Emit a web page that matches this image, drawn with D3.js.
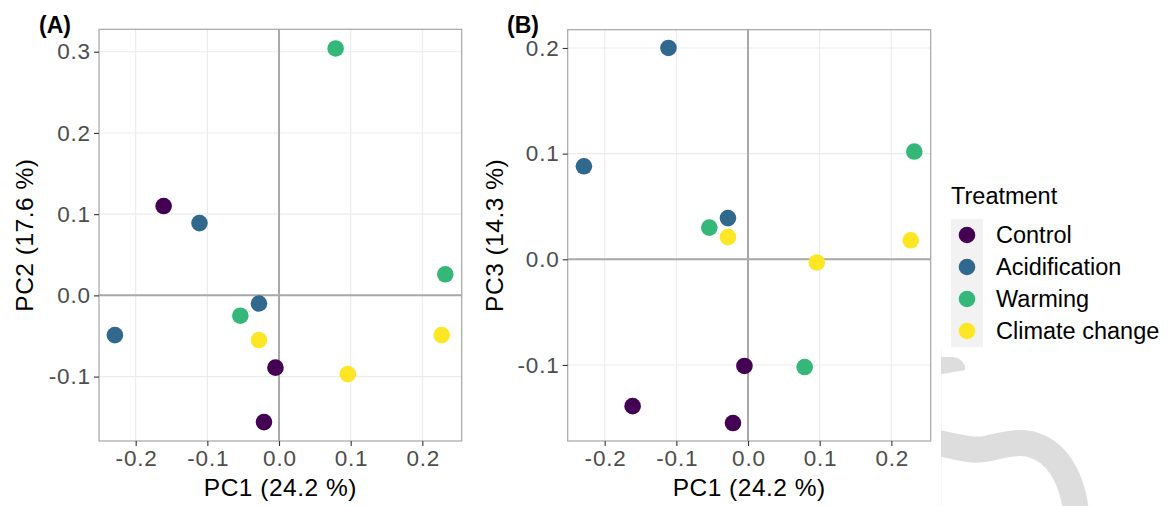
<!DOCTYPE html>
<html>
<head>
<meta charset="utf-8">
<script src="https://cdn.jsdelivr.net/npm/d3@7"></script>
<style>
  html, body { margin: 0; padding: 0; background: #fff; }
  svg { display: block; font-family: "Liberation Sans", Arial, sans-serif; }
</style>
</head>
<body>
<svg id="chart" width="1172" height="506"></svg>
<script>
// ---- Data ----
const treatments = ["Control", "Acidification", "Warming", "Climate change"];
const colors = ["#440154", "#31688E", "#35B779", "#FDE725"];
const sampleTreatment = ["Control","Control","Control",
                         "Acidification","Acidification","Acidification",
                         "Warming","Warming","Warming",
                         "Climate change","Climate change","Climate change"];
const pc1 = [-0.161, -0.005, -0.021,  -0.111, -0.028, -0.229,  0.079, 0.232, -0.054,  0.227, -0.028, 0.096];
const pc2 = [ 0.110, -0.089, -0.156,   0.089, -0.010, -0.049,  0.304, 0.026, -0.025, -0.049, -0.055, -0.097];
const pc3 = [-0.139, -0.101, -0.155,   0.200,  0.039,  0.088, -0.102, 0.102,  0.030,  0.018,  0.021, -0.003];
const xTicks = [-0.2, -0.1, 0.0, 0.1, 0.2];
const yTicksA = [-0.1, 0.0, 0.1, 0.2, 0.3];
const yTicksB = [-0.1, 0.0, 0.1, 0.2];

const svg = d3.select("#chart");
const color = d3.scaleOrdinal().domain(treatments).range(colors);
const fmt = d3.format(".1f");
const fmtTick = v => fmt(v).replace("−", "-");

function panel(opts) {
  const { left, right, top, bottom, xDom, yDom, ys, yTicks, tag, tagX, ylab, titleX } = opts;
  const x = d3.scaleLinear().domain(xDom).range([left, right]);
  const y = d3.scaleLinear().domain(yDom).range([bottom, top]);
  const g = svg.append("g");

  // grid
  g.append("g").selectAll("line.gx").data(xTicks).join("line")
    .attr("x1", d => x(d)).attr("x2", d => x(d)).attr("y1", top).attr("y2", bottom)
    .attr("stroke", "#EBEBEB").attr("stroke-width", 1.1);
  g.append("g").selectAll("line.gy").data(yTicks).join("line")
    .attr("x1", left).attr("x2", right).attr("y1", d => y(d)).attr("y2", d => y(d))
    .attr("stroke", "#EBEBEB").attr("stroke-width", 1.1);

  // zero lines
  g.append("line").attr("x1", x(0)).attr("x2", x(0)).attr("y1", top).attr("y2", bottom)
    .attr("stroke", "#A8A8A8").attr("stroke-width", 2);
  g.append("line").attr("x1", left).attr("x2", right).attr("y1", y(0)).attr("y2", y(0))
    .attr("stroke", "#A8A8A8").attr("stroke-width", 2);

  // points
  g.append("g").selectAll("circle").data(pc1.map((v, i) => ({ x: v, y: ys[i], t: sampleTreatment[i] })))
    .join("circle")
    .attr("cx", d => x(d.x)).attr("cy", d => y(d.y)).attr("r", 8.3)
    .attr("fill", d => color(d.t));

  // border
  g.append("rect").attr("x", left).attr("y", top).attr("width", right - left).attr("height", bottom - top)
    .attr("fill", "none").attr("stroke", "#A6A6A6").attr("stroke-width", 1.2);

  // axes
  const xa = g.append("g").attr("transform", `translate(0,${bottom})`)
    .call(d3.axisBottom(x).tickValues(xTicks).tickSize(5).tickPadding(4).tickFormat(fmtTick));
  const ya = g.append("g").attr("transform", `translate(${left},0)`)
    .call(d3.axisLeft(y).tickValues(yTicks).tickSize(5).tickPadding(4).tickFormat(fmtTick));
  [xa, ya].forEach(a => {
    a.select(".domain").remove();
    a.selectAll(".tick line").attr("stroke", "#333333").attr("stroke-width", 1.1);
    a.selectAll(".tick text").attr("fill", "#4D4D4D").style("font-size", "22.5px")
      .style("letter-spacing", "0.8px")
      .style("font-family", '"Liberation Sans", Arial, sans-serif');
  });
  xa.selectAll(".tick text").attr("dy", "0.71em").attr("dx", "0.4px");
  ya.selectAll(".tick text").attr("dx", "0.8px");

  // titles
  svg.append("text").attr("x", (left + right) / 2).attr("y", 496)
    .attr("text-anchor", "middle").style("font-size", "24.5px").style("letter-spacing", "0.5px")
    .attr("fill", "#000").text("PC1 (24.2 %)");
  svg.append("text").attr("transform", `translate(${titleX},${(top + bottom) / 2}) rotate(-90)`)
    .attr("text-anchor", "middle").style("font-size", "24.5px").style("letter-spacing", "0.5px")
    .attr("fill", "#000").text(ylab);
  svg.append("text").attr("x", tagX).attr("y", 33).style("font-size", "23px")
    .style("font-weight", "bold").attr("fill", "#000").text(tag);
}

panel({ left: 99, right: 461.7, top: 29.3, bottom: 441, xDom: [-0.2512, 0.2549], yDom: [-0.1793, 0.3276],
        ys: pc2, yTicks: yTicksA, tag: "(A)", tagX: 39, ylab: "PC2 (17.6 %)", titleX: 33 });
panel({ left: 567.7, right: 930.7, top: 29.7, bottom: 441, xDom: [-0.2516, 0.2549], yDom: [-0.172, 0.2173],
        ys: pc3, yTicks: yTicksB, tag: "(B)", tagX: 507, ylab: "PC3 (14.3 %)", titleX: 502.5 });

// ---- decorative grey shapes (bottom right) ----
const deco = svg.append("g");
deco.append("clipPath").attr("id", "decoClip").append("rect")
  .attr("x", 941).attr("y", 340).attr("width", 231).attr("height", 166);
deco.append("line").attr("x1", 941.5).attr("x2", 941.5).attr("y1", 350).attr("y2", 506)
  .attr("stroke", "#F6F6F6").attr("stroke-width", 1);
const dg = deco.append("g").attr("clip-path", "url(#decoClip)");
dg.append("path")
  .attr("d", "M 930,442 C 952,444 966,452 985,449 C 1000,446 1015,441 1030,444 C 1055,450 1072,475 1076,512")
  .attr("fill", "none").attr("stroke", "#DDDDDD").attr("stroke-width", 26);
dg.append("path")
  .attr("d", "M 935,357 L 953,357 Q 962,358 965,366 L 965,370 Q 955,372 935,375 Z")
  .attr("fill", "#DDDDDD");

// ---- legend ----
const lg = svg.append("g");
lg.append("text").attr("x", 951).attr("y", 204).style("font-size", "23.5px").attr("fill", "#000").text("Treatment");
lg.append("rect").attr("x", 951).attr("y", 219).attr("width", 32).attr("height", 128).attr("fill", "#F2F2F2");
const ky = d3.scalePoint().domain(treatments).range([235, 331]);
lg.selectAll("circle").data(treatments).join("circle")
  .attr("cx", 967).attr("cy", d => ky(d)).attr("r", 8.3).attr("fill", d => color(d));
lg.selectAll("text.lab").data(treatments).join("text").attr("class", "lab")
  .attr("x", 996).attr("y", d => ky(d)).attr("dy", "0.36em")
  .style("font-size", "23.5px").attr("fill", "#000").text(d => d);
</script>
</body>
</html>
